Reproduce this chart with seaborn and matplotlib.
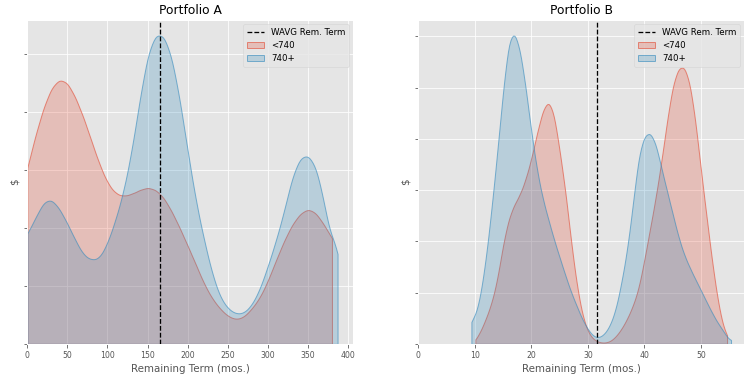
import matplotlib

matplotlib.use("Agg")
import matplotlib.pyplot as plt
from matplotlib.colors import to_rgba
import numpy as np
import seaborn as sns

# --- Readings (density, in grid-line units) ---
# Portfolio A, remaining term (mos.)
A_LOW_TERM = [0, 10, 20, 30, 40, 50, 60, 70, 80, 90, 100, 110, 120, 130, 140,
              150, 160, 170, 180, 190, 200, 210, 220, 230, 240, 250, 260, 270,
              280, 290, 300, 310, 320, 330, 340, 350, 360, 370, 380]
A_LOW_DENS = [3.00, 3.55, 4.02, 4.37, 4.52, 4.46, 4.20, 3.86, 3.45, 3.05, 2.73,
              2.55, 2.51, 2.55, 2.62, 2.67, 2.63, 2.50, 2.26, 1.98, 1.67, 1.36,
              1.03, 0.78, 0.60, 0.47, 0.41, 0.45, 0.60, 0.78, 1.07, 1.42, 1.75,
              2.03, 2.22, 2.31, 2.24, 2.03, 1.80]
A_HIGH_TERM = [0, 10, 20, 30, 40, 50, 60, 70, 80, 90, 100, 110, 120, 130, 140,
               150, 160, 170, 180, 190, 200, 210, 220, 230, 240, 250, 260, 270,
               280, 290, 300, 310, 320, 330, 340, 350, 360, 370, 380, 387]
A_HIGH_DENS = [1.89, 2.15, 2.44, 2.49, 2.32, 2.06, 1.77, 1.51, 1.43, 1.45, 1.72,
               2.12, 2.60, 3.28, 4.17, 4.97, 5.32, 5.30, 4.93, 4.20, 3.30, 2.45,
               1.80, 1.22, 0.80, 0.60, 0.51, 0.52, 0.66, 0.93, 1.33, 1.76, 2.25,
               2.85, 3.20, 3.25, 3.05, 2.45, 1.85, 1.46]
A_WAVG = 165.6

# Portfolio B, remaining term (mos.)
B_LOW_TERM = [10.1, 11, 12, 13, 14, 15, 16, 17, 18, 19, 20, 21, 22, 23, 24, 25,
              26, 27, 28, 29, 30, 31, 32, 33, 34, 35, 36, 37, 38, 39, 40, 41, 42,
              43, 44, 45, 46, 47, 48, 49, 50, 51, 52, 53, 54, 54.6]
B_LOW_DENS = [0.05, 0.25, 0.50, 0.80, 1.25, 1.95, 2.45, 2.72, 2.90, 3.20, 3.60,
              4.10, 4.55, 4.76, 4.50, 3.75, 3.00, 2.00, 1.15, 0.55, 0.22, 0.08,
              0.03, 0.02, 0.05, 0.15, 0.30, 0.50, 0.75, 1.08, 1.65, 2.25, 2.85,
              3.55, 4.35, 5.05, 5.38, 5.42, 5.10, 4.35, 3.35, 2.45, 1.55, 0.80,
              0.32, 0.11]
B_HIGH_TERM = [9.4, 10, 11, 12, 13, 14, 15, 16, 17, 18, 19, 20, 21, 22, 23, 24,
               25, 26, 27, 28, 29, 30, 31, 32, 33, 34, 35, 36, 37, 38, 39, 40, 41,
               42, 43, 44, 45, 46, 47, 48, 49, 50, 51, 52, 53, 54, 55.3]
B_HIGH_DENS = [0.40, 0.55, 0.95, 1.70, 2.70, 3.80, 5.00, 6.00, 6.18, 5.80, 5.05,
               4.15, 3.40, 2.85, 2.45, 2.05, 1.70, 1.35, 1.02, 0.75, 0.48, 0.28,
               0.14, 0.12, 0.20, 0.38, 0.70, 1.25, 1.88, 2.80, 3.75, 4.12, 4.18,
               3.95, 3.45, 3.00, 2.55, 2.10, 1.75, 1.50, 1.27, 1.05, 0.82, 0.60,
               0.40, 0.22, 0.07]
B_WAVG = 31.6

LABELS = ["<740", "740+"]
COLORS = ["#E24A33", "#348ABD"]

plt.style.use("ggplot")
plt.rcParams.update({"font.family": ["DejaVu Sans"]})

TITLE_FS = 12.3
LABEL_FS = 10.3
TICK_FS = 7.8
LEGEND_FS = 8.6


def term_weights(term, dens, n=3):
    # mirror a few buckets through each end (boundary correction), then
    # weight every bucket by the width of term it stands for
    x = np.asarray(term, float)
    y = np.asarray(dens, float)
    xs = np.concatenate([2 * x[0] - x[1:n + 1][::-1], x,
                         2 * x[-1] - x[-n - 1:-1][::-1]])
    ys = np.concatenate([2 * y[0] - y[1:n + 1][::-1], y,
                         2 * y[-1] - y[-n - 1:-1][::-1]])
    ys = np.clip(ys, 0, None)
    mid = (xs[1:] + xs[:-1]) / 2
    edges = np.concatenate([[2 * xs[0] - mid[0]], mid, [2 * xs[-1] - mid[-1]]])
    return xs, ys * np.diff(edges)


def draw_kde(ax, term, dens, bw, color, label):
    xs, w = term_weights(term, dens)
    sd = float(np.sqrt(np.cov(xs, aweights=w)))
    sns.kdeplot(x=xs, weights=w, bw_method=bw / sd, clip=(term[0], term[-1]),
                fill=True, facecolor=to_rgba(color, 0.25),
                edgecolor=to_rgba(color, 0.6), linewidth=1, label=label, ax=ax)


fig, axes = plt.subplots(1, 2, figsize=(750 / 72, 380 / 72), dpi=72)
fig.subplots_adjust(left=0.0364, right=0.992, bottom=0.095, top=0.947, wspace=0.2)

panels = [
    ("Portfolio A", A_LOW_TERM, A_LOW_DENS, A_HIGH_TERM, A_HIGH_DENS, A_WAVG, 6.5),
    ("Portfolio B", B_LOW_TERM, B_LOW_DENS, B_HIGH_TERM, B_HIGH_DENS, B_WAVG, 0.65),
]

for ax, (title, lo_t, lo_d, hi_t, hi_d, wavg, bw) in zip(axes, panels):
    ax.axvline(wavg, color="black", linestyle="--", linewidth=1.3,
               label="WAVG Rem. Term")
    draw_kde(ax, lo_t, lo_d, bw, COLORS[0], LABELS[0])
    draw_kde(ax, hi_t, hi_d, bw, COLORS[1], LABELS[1])
    ax.set_xlim(left=0)
    ax.set_title(title, fontsize=TITLE_FS, color="black")
    ax.set_xlabel("Remaining Term (mos.)", fontsize=LABEL_FS)
    ax.set_ylabel("$", fontsize=LABEL_FS)
    ax.tick_params(axis="x", labelsize=TICK_FS)
    ax.tick_params(axis="y", labelleft=False)
    ax.legend(loc="upper right", fontsize=LEGEND_FS)

fig.savefig("out.png", dpi=72)
